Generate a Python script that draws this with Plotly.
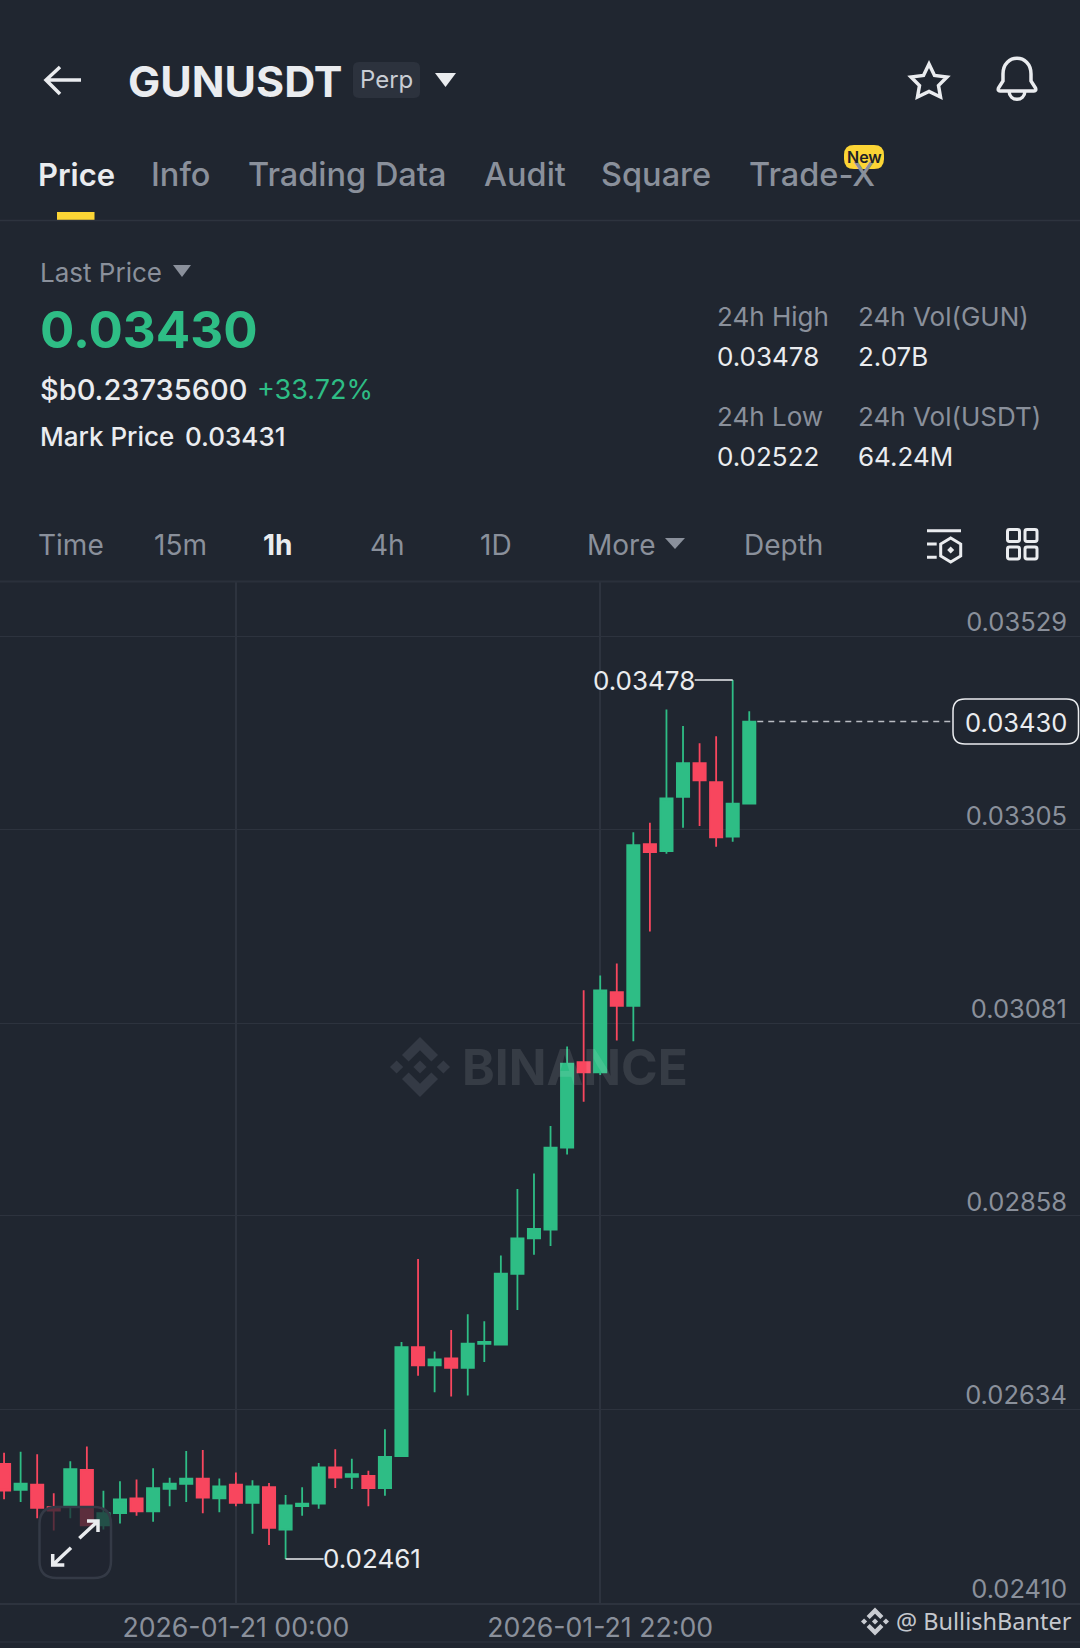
import re
import pandas as pd
import plotly.graph_objects as go

W, H = 1080, 1648
BG = "#202630"
GREEN = "#2EBD85"
RED = "#F8465E"
GREY = "#8A909B"
WHITE = "#EAECEF"
GRID = "#2D333E"

# hourly candles
times = pd.date_range("2026-01-20 10:00", periods=46, freq="h")
opens = [0.02571, 0.02541, 0.02547, 0.02521, 0.02521, 0.02564, 0.02500, 0.02514, 0.02531, 0.02516,
         0.02542, 0.02548, 0.02554, 0.02531, 0.02547, 0.02526, 0.02544, 0.02495, 0.02522, 0.02525,
         0.02567, 0.02556, 0.02557, 0.02543, 0.02580, 0.02706, 0.02685, 0.02693, 0.02682, 0.02710,
         0.02709, 0.02791, 0.02832, 0.02842, 0.02937, 0.03036, 0.03024, 0.03117, 0.03101, 0.03288,
         0.03280, 0.03343, 0.03382, 0.03360, 0.03297, 0.03335]
highs = [0.02584, 0.02585, 0.02582, 0.02537, 0.02574, 0.02591, 0.02540, 0.02551, 0.02553, 0.02566,
         0.02555, 0.02586, 0.02587, 0.02554, 0.02561, 0.02552, 0.02549, 0.02535, 0.02544, 0.02572,
         0.02588, 0.02577, 0.02563, 0.02611, 0.02712, 0.02808, 0.02701, 0.02726, 0.02744, 0.02736,
         0.02812, 0.02889, 0.02907, 0.02962, 0.03054, 0.03119, 0.03136, 0.03150, 0.03302, 0.03313,
         0.03444, 0.03425, 0.03405, 0.03413, 0.03478, 0.03442]
lows = [0.02530, 0.02527, 0.02508, 0.02494, 0.02508, 0.02500, 0.02495, 0.02502, 0.02511, 0.02504,
        0.02522, 0.02527, 0.02514, 0.02515, 0.02522, 0.02490, 0.02477, 0.02461, 0.02511, 0.02519,
        0.02543, 0.02542, 0.02522, 0.02534, 0.02580, 0.02673, 0.02654, 0.02649, 0.02650, 0.02689,
        0.02708, 0.02749, 0.02813, 0.02823, 0.02929, 0.02990, 0.03021, 0.03061, 0.03060, 0.03187,
        0.03277, 0.03307, 0.03309, 0.03285, 0.03291, 0.03335]
closes = [0.02540, 0.02548, 0.02520, 0.02517, 0.02565, 0.02500, 0.02514, 0.02530, 0.02516, 0.02543,
          0.02548, 0.02554, 0.02532, 0.02545, 0.02526, 0.02545, 0.02497, 0.02523, 0.02525, 0.02567,
          0.02555, 0.02559, 0.02543, 0.02579, 0.02706, 0.02685, 0.02692, 0.02682, 0.02710, 0.02712,
          0.02791, 0.02832, 0.02843, 0.02937, 0.03034, 0.03024, 0.03119, 0.03101, 0.03287, 0.03279,
          0.03341, 0.03382, 0.03362, 0.03296, 0.03335, 0.03430]

price_ticks = [0.02410, 0.02634, 0.02858, 0.03081, 0.03305, 0.03529]
time_ticks = ["2026-01-21 00:00", "2026-01-21 22:00"]
last_price = 0.03430
high_price = 0.03478
low_price = 0.02461

UI_FONT = "Inter"
shapes = []
notes = []


def px_path(d):
    # svg path written in screen pixels -> paper coordinates
    return re.sub(r"(-?[\d.]+),(-?[\d.]+)",
                  lambda m: f"{float(m[1]) / W:.5f},{1 - float(m[2]) / H:.5f}", d)


def icon(d, fill=None, line=None, width=0, below=False):
    shapes.append(dict(type="path", xref="paper", yref="paper", path=px_path(d),
                       fillcolor=fill or "rgba(0,0,0,0)",
                       line=dict(color=line or "rgba(0,0,0,0)", width=width),
                       layer="below" if below else "above"))


def rule(x0, x1, y, color=GRID, width=1.5):
    shapes.append(dict(type="line", xref="paper", yref="paper", x0=x0 / W, x1=x1 / W,
                       y0=1 - y / H, y1=1 - y / H, line=dict(color=color, width=width)))


def text(x, y, s, size, color=WHITE, anchor="left", weight=400, font=UI_FONT):
    if anchor == "left":
        x -= 1.5  # glyph side bearing
    notes.append(dict(xref="paper", yref="paper", x=x / W, y=1 - y / H, text=s, showarrow=False,
                      xanchor=anchor, yanchor="middle", borderpad=0,
                      font=dict(family=font, size=size, color=color, weight=weight)))


def rounded(x0, y0, x1, y1, r):
    return (f"M{x0 + r},{y0} L{x1 - r},{y0} Q{x1},{y0} {x1},{y0 + r} L{x1},{y1 - r} Q{x1},{y1} {x1 - r},{y1} "
            f"L{x0 + r},{y1} Q{x0},{y1} {x0},{y1 - r} L{x0},{y0 + r} Q{x0},{y0} {x0 + r},{y0} Z")


def binance_logo(cx, cy, r, color):
    polys = [[(0, -.22), (.22, 0), (0, .22), (-.22, 0)],
             [(-.78, -.22), (-.56, 0), (-.78, .22), (-1, 0)],
             [(.78, -.22), (1, 0), (.78, .22), (.56, 0)],
             [(0, -1), (.6, -.4), (.38, -.18), (0, -.56), (-.38, -.18), (-.6, -.4)],
             [(0, 1), (.6, .4), (.38, .18), (0, .56), (-.38, .18), (-.6, .4)]]
    for poly in polys:
        pts = [f"{cx + a * r},{cy + b * r}" for a, b in poly]
        icon("M" + " L".join(pts) + " Z", fill=color, below=True)


fig = go.Figure()

fig.add_trace(go.Candlestick(
    x=times, open=opens, high=highs, low=lows, close=closes,
    whiskerwidth=0,
    increasing=dict(line=dict(color=GREEN, width=1.8), fillcolor=GREEN),
    decreasing=dict(line=dict(color=RED, width=1.8), fillcolor=RED),
    hoverinfo="skip",
))

# header
icon("M81,80 L46,80 M60,67 L46,80 L60,94", line=WHITE, width=3.5)
text(128, 81, "GUNUSDT", 43, WHITE, weight=700)
icon(rounded(353, 62, 420, 98, 6), fill="#2C323D")
text(386.5, 80, "Perp", 24, "#C9CDD4", "center")
icon("M435,73 L456,73 L445.5,87 Z", fill=WHITE)
icon("M929,64 L934.5,75.5 L947,77 L938.5,85.5 L940.5,97 L929,91.5 L917.5,97 L919.5,85.5 L911,77 L923.5,75.5 Z",
     line=WHITE, width=3.5)
icon("M1003,81 L1003,74 C1003,53 1031,53 1031,74 L1031,81 L1035.5,88 Q1036.5,91 1034,91 L1000,91 Q997.5,91 998.5,88 Z "
     "M1009,91 C1009.5,102 1024.5,102 1025,91", line=WHITE, width=3.5)

# tabs
text(38, 174, "Price", 31, WHITE, weight=600)
text(151, 174, "Info", 32.5, GREY, weight=500)
text(248, 174, "Trading Data", 32.5, GREY, weight=500)
text(484, 174, "Audit", 32.5, GREY, weight=500)
text(601, 174, "Square", 32.5, GREY, weight=500)
text(749, 174, "Trade-X", 32.5, GREY, weight=500)
icon(rounded(844, 145, 884, 169, 10), fill="#FCD535")
text(864, 157, "New", 16, "#1E2329", "center", weight=600)
icon("M57,212 L94.5,212 L94.5,220 L57,220 Z", fill="#FCD535")
rule(0, W, 220.5)

# price block
text(40, 272, "Last Price", 26, GREY)
icon("M173,265 L191,265 L182,277 Z", fill=GREY)
text(40, 329, "0.03430", 51, GREEN, weight=700)
text(40, 390, "$b0.23735600", 29, WHITE, weight=500)
text(257, 390, "+33.72%", 27, GREEN)
text(40, 436, "Mark Price", 26, WHITE, weight=500)
text(185, 436, "0.03431", 26, WHITE, weight=500)
for x, label, value in [(717, "24h High", "0.03478"), (858, "24h Vol(GUN)", "2.07B")]:
    text(x, 316, label, 26, GREY)
    text(x, 356, value, 26, WHITE)
for x, label, value in [(717, "24h Low", "0.02522"), (858, "24h Vol(USDT)", "64.24M")]:
    text(x, 416, label, 26, GREY)
    text(x, 456, value, 26, WHITE)

# interval row
for x, label in [(38, "Time"), (154, "15m"), (370, "4h"), (480, "1D"), (587, "More"), (744, "Depth")]:
    text(x, 545, label, 28, GREY)
text(263, 545, "1h", 28, WHITE, weight=700)
icon("M665,538 L685,538 L675,549 Z", fill=GREY)
icon("M927,530.7 L961,530.7 M927,544 L936.7,544 M927,557.3 L936.7,557.3", line=WHITE, width=3)
icon("M950.7,538 L960.7,544 L960.7,556 L950.7,562 L940.7,556 L940.7,544 Z", line=WHITE, width=3)
icon("M950.7,546.5 L954.2,550 L950.7,553.5 L947.2,550 Z", fill=WHITE)
for x0 in (1007.5, 1025):
    for y0 in (529.5, 547):
        icon(rounded(x0, y0, x0 + 12, y0 + 12, 2), line=WHITE, width=3)
rule(0, W, 581.5, color="#2A303B", width=2)

# watermark
binance_logo(420, 1067, 30, "#343A45")
text(462, 1067, "BINANCE", 49.5, "rgba(255,255,255,0.10)", weight=700)

# markers for high / low / last price
high_x = times[highs.index(high_price)]
low_x = times[lows.index(low_price)]
shapes.append(dict(type="line", xref="x", yref="y", y0=high_price, y1=high_price,
                   xsizemode="pixel", xanchor=high_x, x0=-38, x1=0, line=dict(color=WHITE, width=1.5)))
shapes.append(dict(type="line", xref="x", yref="y", y0=low_price, y1=low_price,
                   xsizemode="pixel", xanchor=low_x, x0=0, x1=38, line=dict(color=WHITE, width=1.5)))
notes.append(dict(x=high_x, y=high_price, xref="x", yref="y", text=f"{high_price:.5f}", showarrow=False,
                  xanchor="right", xshift=-36, yanchor="middle",
                  font=dict(family=UI_FONT, size=26, color=WHITE)))
notes.append(dict(x=low_x, y=low_price, xref="x", yref="y", text=f"{low_price:.5f}", showarrow=False,
                  xanchor="left", xshift=35, yanchor="middle",
                  font=dict(family=UI_FONT, size=26, color=WHITE)))
shapes.append(dict(type="line", xref="x", yref="y", y0=last_price, y1=last_price,
                   xsizemode="pixel", xanchor=times[-1], x0=8, x1=203,
                   line=dict(color="#B9BCC2", width=1.5, dash="6px,5px")))
icon(rounded(953, 699, 1078.5, 744, 12), fill=BG, line=WHITE, width=1.5)
text(1068, 722, f"{last_price:.5f}", 25.5, WHITE, "right")

# expand button sits on top of the candles
icon(rounded(39.5, 1507, 111, 1578, 17), fill="rgba(32,38,48,0.72)", line="#343A46", width=2.5)
icon("M79.3,1538.3 L98,1521 M87,1521 L98,1521 L98,1532", line=WHITE, width=3.5)
icon("M71,1547.7 L52.7,1565 M52.7,1554 L52.7,1565 L64.3,1565", line=WHITE, width=3.5)

# footer
rule(0, W, 1642, color="#2A303B", width=1.5)
binance_logo(875, 1621.5, 14, "#C9CCD2")
text(896, 1621, "@ BullishBanter", 23.5, "#C5C8CE", font="Noto Sans")

fig.update_layout(
    width=W, height=H,
    margin=dict(l=0, r=0, t=0, b=0),
    paper_bgcolor=BG, plot_bgcolor=BG,
    showlegend=False,
    boxgap=0.26, boxgroupgap=0,
    shapes=shapes, annotations=notes,
    xaxis=dict(
        type="date",
        range=["2026-01-20 09:45:18", "2026-01-23 02:58:19"],
        domain=[0, 1], rangeslider=dict(visible=False),
        tickmode="array", tickvals=time_ticks, ticktext=time_ticks,
        tickfont=dict(family=UI_FONT, size=26.7, color=GREY),
        showgrid=True, gridcolor=GRID, gridwidth=1.5, zeroline=False,
        showline=True, linecolor=GRID, linewidth=2, ticks="", ticklabelstandoff=0,
    ),
    yaxis=dict(
        range=[0.0241, 0.035915],
        domain=[1 - 1603 / H, 1 - 582 / H],
        side="right", tickmode="array", tickvals=price_ticks,
        ticktext=[f"{v:.5f}" for v in price_ticks],
        ticklabelposition="inside", ticklabelshift=-14, ticklabelstandoff=10,
        ticklabeloverflow="allow",
        tickfont=dict(family=UI_FONT, size=25.5, color=GREY),
        showgrid=True, gridcolor=GRID, gridwidth=1, zeroline=False, showline=False, ticks="",
    ),
)

fig.write_html("out.html", config=dict(displayModeBar=False),
               post_script="document.body.style.margin='0';document.body.style.background='#202630';")
